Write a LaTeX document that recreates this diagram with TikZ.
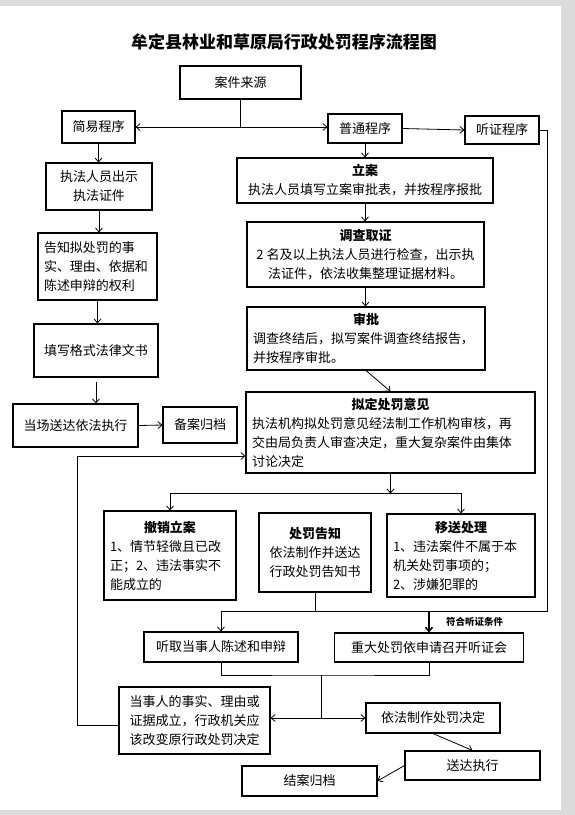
\documentclass[tikz,border=0pt]{standalone}
\usepackage{fontspec}
\setmainfont{Noto Sans CJK SC}
\usetikzlibrary{arrows.meta, positioning}
\setlength\parindent{0pt}
\newcommand\boxfont{\fontsize{13}{19}\selectfont}
\newcommand\tagfont{\fontsize{9.5}{11}\selectfont\bfseries}
\newcommand\headfont{\fontsize{17}{20}\selectfont\bfseries}

\begin{document}
\begin{tikzpicture}[
    x=1pt, y=-1pt,
    >={Straight Barb[length=4pt,width=7pt]},
    line width=0.8pt,
    box/.style={
      draw, line width=1.1pt, inner sep=2pt,
      align=center, font=\boxfont},
    stepbox/.style={
      draw, line width=1.1pt, inner xsep=6pt, inner ysep=2pt,
      align=left, font=\boxfont},
]
\useasboundingbox (0,0) rectangle (575,815);
\fill[black!14] (0,0) rectangle (575,815);
\fill[white] (0,6) rectangle (561,810);

\node[font=\headfont] (title) at (284,42) {牟定县林业和草原局行政处罚程序流程图};

% ---- top row ----
\node[box, minimum width=121pt, minimum height=33pt] (case)    at (240.5,82.5) {案件来源};
\node[box, minimum width=73pt,  minimum height=32pt] (simple)  at (98.5,127)   {简易程序};
\node[box, minimum width=74pt,  minimum height=29pt] (normal)  at (365,128.5)  {普通程序};
\node[box, minimum width=74pt,  minimum height=28pt] (hearing) at (502,130)    {听证程序};

% ---- simple procedure (left column) ----
\node[box, minimum width=106pt, minimum height=47pt] (show) at (99,186.5) {执法人员出示\\执法证件};
\node[stepbox, text width=107pt, minimum height=67pt] (notify) at (97.5,266.5)
  {告知拟处罚的事\\实、理由、依据和\\陈述申辩的权利};
\node[box, minimum width=124pt, minimum height=53pt] (fill)    at (96,350.5)  {填写格式法律文书};
\node[box, minimum width=125pt, minimum height=43pt] (deliver) at (75.5,425.5) {当场送达依法执行};
\node[box, minimum width=74pt,  minimum height=36pt] (record)  at (200,425)   {备案归档};

% ---- ordinary procedure (centre column) ----
\node[box, minimum width=256pt, minimum height=45pt] (file) at (365,180.5)
  {{\bfseries 立案}\\执法人员填写立案审批表，并按程序报批};
\node[box, minimum width=237pt, minimum height=65pt] (invest) at (365.5,254.5)
  {{\bfseries 调查取证}\\2 名及以上执法人员进行检查，出示执\\法证件，依法收集整理证据材料。};
\node[stepbox, text width=226pt, minimum height=63pt] (approve) at (366,338.5)
  {{\centering\bfseries 审批\par}调查终结后，拟写案件调查终结报告，\\并按程序审批。};
\node[stepbox, text width=277pt, minimum height=81pt] (decide) at (390.5,432.5)
  {{\centering\bfseries 拟定处罚意见\par}执法机构拟处罚意见经法制工作机构审核，再\\交由局负责人审查决定，重大复杂案件由集体\\讨论决定};

% ---- three outcomes ----
\node[stepbox, text width=120pt, minimum height=89pt] (revoke) at (170,555.5)
  {{\centering\bfseries 撤销立案\par}1、情节轻微且已改\\正；2、违法事实不\\能成立的};
\node[box, minimum width=112pt, minimum height=79pt] (inform) at (315,552.5)
  {{\bfseries 处罚告知}\\依法制作并送达\\行政处罚告知书};
\node[stepbox, text width=136pt, minimum height=83pt] (transfer) at (461,555.5)
  {{\centering\bfseries 移送处理\par}1、违法案件不属于本\\机关处罚事项的；\\2、涉嫌犯罪的};

% ---- statement / hearing ----
\node[box, minimum width=154pt, minimum height=30pt] (listen) at (221,647)   {听取当事人陈述和申辩};
\node[box, minimum width=189pt, minimum height=29pt] (major)  at (429,647.5) {重大处罚依申请召开听证会};

% ---- decision and closing ----
\node[box, minimum width=151pt, minimum height=67pt] (change) at (194.5,720.5)
  {当事人的事实、理由或\\证据成立，行政机关应\\该改变原行政处罚决定};
\node[box, minimum width=134pt, minimum height=30pt] (make)  at (433,718)   {依法制作处罚决定};
\node[box, minimum width=135pt, minimum height=29pt] (send)  at (472.5,765.5) {送达执行};
\node[box, minimum width=135pt, minimum height=30pt] (close) at (309.5,781) {结案归档};

% ---- case source split ----
\coordinate (split1) at (case.south |- simple.east);
\draw (case.south) -- (split1);
\draw[->] (split1) -- (simple.east);
\draw[->] (split1) -- (split1 -| normal.west);
\draw[->] (normal.east) -- (hearing.west);

% ---- simple procedure chain ----
\draw[->] (simple.south) -- (simple.south |- show.north);
\draw[->] (show.south) -- (show.south |- notify.north);
\draw[->] (notify.south) -- (notify.south |- fill.north);
\draw[->] ([yshift=-4pt]fill.south) -- (fill.south |- deliver.north);
\draw[->] (deliver.east) -- (record.west);

% ---- ordinary procedure chain ----
\draw[->] (normal.south) -- (normal.south |- file.north);
\draw[->] (file.south) -- (file.south |- invest.north);
\draw[->] (invest.south) -- (invest.south |- approve.north);
\draw[->] (approve.south) -- (decide.north);

\coordinate (split2) at ([yshift=-20pt]decide.south);
\draw[->] (decide.south) -- (split2);
\draw[<->] (revoke.north) |- (split2) -| (transfer.north);

% ---- notice and hearing rail ----
\coordinate (bus) at (315,611);
\draw (inform.south) -- (bus);
\draw[->] (hearing.east) -- ++(8,0) |- (listen.north |- bus) -- (listen.north);
\draw[->, line width=1.6pt] (major.north |- bus) -- (major.north)
  node[midway, anchor=west, xshift=13pt, font=\tagfont] {符合听证条件};

% ---- merge to decision ----
\coordinate (merge) at (321,675);
\draw (listen.south) |- (merge) -| (major.south);
\coordinate (fork) at (merge |- make.west);
\draw (merge) -- (fork);
\draw[->] (fork) -- (fork -| change.east);
\draw[->] (fork) -- (make.west);

% ---- feedback to proposal ----
\draw[->] ([yshift=-5pt]change.west) -- ++(-41,0) |- ([yshift=-23.5pt]decide.west);

% ---- delivery and closing ----
\draw[->] (make.south) -- (send.north);
\draw[->] (send.west) -- (close.east);

\end{tikzpicture}
\end{document}
